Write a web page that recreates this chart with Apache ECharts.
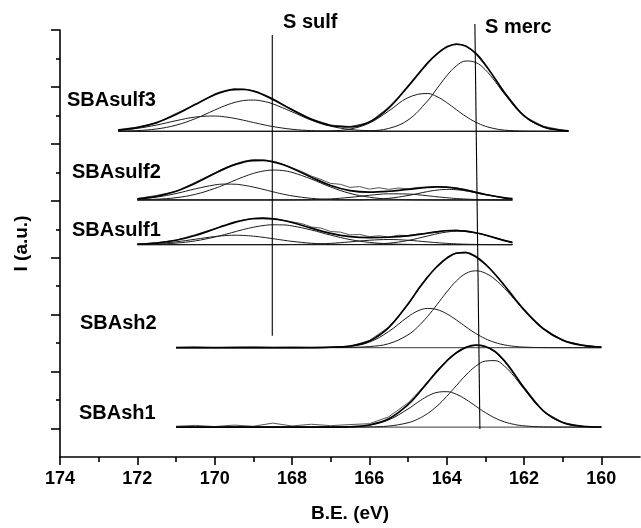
<!DOCTYPE html>
<html><head><meta charset="utf-8">
<script src="https://cdn.jsdelivr.net/npm/echarts@6/dist/echarts.min.js"></script>
<style>html,body{margin:0;padding:0;background:#fff}#c{width:641px;height:528px}</style>
</head><body><div id="c"></div>
<script>
// ---- data (B.E. in eV, intensity heights above each spectrum's own baseline) ----
const sulf3X   = [172.5,172,171.5,171,170.5,170,169.75,169.5,169.25,169,168.75,168.5,168,167.5,167,166.5,166,165.5,165,164.5,164.25,164,163.75,163.5,163.25,163,162.75,162.5,162,161.5,161,160.85];
const sulf3A   = [0.040,0.105,0.222,0.374,0.502,0.538,0.511,0.459,0.389,0.312,0.236,0.169,0.073,0.025,0.007,0.002,0,0,0,0,0,0,0,0,0,0,0,0,0,0,0,0];
const sulf3B   = [0.007,0.026,0.084,0.216,0.447,0.747,0.892,1.009,1.081,1.099,1.058,0.966,0.686,0.393,0.182,0.068,0.020,0.005,0.001,0,0,0,0,0,0,0,0,0,0,0,0,0];
const sulf3C   = [0,0,0,0,0,0,0,0,0,0,0,0,0,0.002,0.015,0.080,0.290,0.712,1.182,1.330,1.218,1.012,0.762,0.521,0.323,0.181,0.092,0.043,0.007,0.001,0,0];
const sulf3D   = [0,0,0,0,0,0,0,0,0,0,0,0,0,0,0,0.002,0.018,0.102,0.397,1.059,1.504,1.948,2.298,2.471,2.421,2.162,1.758,1.304,0.542,0.156,0.031,0.018];
const sulf3Env = [0.047,0.131,0.306,0.590,0.949,1.285,1.403,1.468,1.470,1.411,1.294,1.135,0.759,0.420,0.204,0.152,0.328,0.819,1.580,2.389,2.722,2.960,3.060,2.992,2.744,2.343,1.850,1.347,0.549,0.157,0.031,0.018];
const sulf3Raw = [0.06,0.15,0.29,0.63,0.93,1.32,1.42,1.50,1.49,1.43,1.27,1.10,0.78,0.44,0.22,0.17,0.31,0.85,1.55,2.42,2.70,2.99,3.08,3.01,2.72,2.31,1.87,1.38,0.52,0.18,0.04,0.01];

const sulfX    = [172,171.5,171,170.5,170,169.75,169.5,169.25,169,168.75,168.5,168.25,168,167.5,167,166.5,166,165.5,165,164.5,164.25,164,163.75,163.5,163.25,163,162.5,162.3];
const sulfRawX = [172,171.5,171,170.5,170,169.75,169.5,169.25,169,168.75,168.5,168.25,168,167.75,167.5,167.25,167,166.75,166.5,166.25,166,165.75,165.5,165.25,165,164.75,164.5,164.25,164,163.75,163.5,163.25,163,162.75,162.5,162.3];
const sulf2A   = [0.035,0.101,0.225,0.390,0.527,0.557,0.554,0.517,0.453,0.374,0.289,0.210,0.144,0.056,0.017,0.004,0.001,0,0,0,0,0,0,0,0,0,0,0];
const sulf2B   = [0.007,0.026,0.079,0.197,0.403,0.535,0.677,0.814,0.931,1.013,1.049,1.033,0.969,0.733,0.454,0.231,0.096,0.033,0.009,0.002,0,0,0,0,0,0,0,0];
const sulf2C   = [0,0,0,0,0,0,0,0,0,0,0,0,0.002,0.011,0.037,0.090,0.163,0.215,0.208,0.148,0.111,0.078,0.050,0.030,0.016,0.008,0.002,0.001];
const sulf2D   = [0,0,0,0,0,0,0,0,0,0,0,0,0,0,0,0.002,0.014,0.057,0.156,0.292,0.345,0.369,0.359,0.316,0.252,0.183,0.072,0.044];
const sulf2Env = [0.042,0.127,0.304,0.587,0.930,1.092,1.231,1.331,1.384,1.387,1.338,1.243,1.115,0.800,0.508,0.327,0.274,0.305,0.373,0.442,0.456,0.447,0.409,0.346,0.268,0.191,0.074,0.045];
const sulf2Raw = [0.05,0.16,0.30,0.62,0.95,1.12,1.25,1.36,1.42,1.40,1.36,1.27,1.13,1.00,0.84,0.72,0.58,0.55,0.44,0.47,0.38,0.43,0.37,0.42,0.39,0.44,0.45,0.47,0.44,0.43,0.36,0.28,0.20,0.13,0.06,0.04];

const sulf1A   = [0.013,0.040,0.099,0.190,0.284,0.315,0.330,0.323,0.298,0.258,0.210,0.161,0.115,0.049,0.016,0.004,0.001,0,0,0,0,0,0,0,0,0,0,0];
const sulf1B   = [0.005,0.018,0.054,0.132,0.266,0.351,0.443,0.533,0.611,0.668,0.697,0.694,0.659,0.515,0.334,0.179,0.079,0.029,0.009,0.002,0,0,0,0,0,0,0,0];
const sulf1C   = [0,0,0,0,0,0,0,0,0,0,0,0.002,0.004,0.015,0.045,0.097,0.154,0.180,0.154,0.097,0.069,0.045,0.027,0.015,0.008,0.004,0.001,0];
const sulf1D   = [0,0,0,0,0,0,0,0,0,0,0,0,0,0,0,0.002,0.012,0.050,0.146,0.302,0.381,0.442,0.469,0.457,0.409,0.335,0.140,0.080];
const sulf1Env = [0.018,0.058,0.153,0.322,0.550,0.666,0.773,0.856,0.909,0.926,0.907,0.857,0.778,0.579,0.395,0.282,0.246,0.259,0.309,0.401,0.450,0.487,0.496,0.472,0.417,0.339,0.141,0.080];
const sulf1Raw = [0.02,0.07,0.16,0.35,0.56,0.68,0.80,0.87,0.93,0.95,0.92,0.86,0.80,0.74,0.62,0.58,0.46,0.44,0.34,0.36,0.28,0.31,0.27,0.33,0.32,0.37,0.41,0.46,0.50,0.51,0.48,0.42,0.33,0.24,0.15,0.05];

const shX      = [171,170.5,170,169.5,169,168.5,168,167.5,167,166.5,166,165.5,165,164.75,164.5,164.25,164,163.75,163.5,163.25,163,162.75,162.5,162.25,162,161.5,161,160.5,160];
const sh2E     = [0,0,0,0,0,0,0,0.003,0.008,0.015,0.040,0.140,0.450,0.728,1.089,1.513,1.954,2.343,2.610,2.700,2.619,2.399,2.078,1.700,1.314,0.663,0.266,0.085,0.022];
const sh2F     = [0,0,0,0,0,0,0,0.001,0.007,0.045,0.196,0.567,1.086,1.288,1.378,1.339,1.192,0.974,0.729,0.501,0.316,0.182,0.097,0.047,0.021,0.003,0,0,0];
const sh2Env   = [0,0,0,0,0,0,0,0.004,0.015,0.060,0.236,0.707,1.536,2.016,2.467,2.852,3.146,3.317,3.339,3.201,2.935,2.581,2.175,1.747,1.335,0.666,0.266,0.085,0.022];
const sh2Raw   = [0.01,0.03,0.00,0.02,0.03,0.01,0.02,0.01,0.03,0.05,0.25,0.72,1.50,2.05,2.50,2.83,3.12,3.34,3.36,3.18,2.92,2.60,2.18,1.72,1.31,0.68,0.25,0.10,0.02];

const sh1G     = [0,0,0,0,0,0,0,0,0,0.001,0.007,0.037,0.153,0.279,0.471,0.738,1.076,1.457,1.831,2.138,2.319,2.336,2.135,1.774,1.336,0.566,0.162,0.031,0.004];
const sh1H     = [0,0,0,0,0,0,0,0,0.002,0.012,0.068,0.253,0.636,0.871,1.082,1.219,1.245,1.154,0.970,0.739,0.511,0.320,0.182,0.094,0.044,0.007,0.001,0,0];
const sh1Env   = [0,0,0,0,0,0,0,0,0.002,0.013,0.075,0.290,0.789,1.150,1.553,1.957,2.321,2.611,2.801,2.877,2.830,2.656,2.317,1.868,1.380,0.573,0.163,0.031,0.004];
const sh1Raw   = [0.03,0.06,0.02,0.07,0.03,0.14,0.04,0.10,0.05,0.09,0.12,0.36,0.85,1.20,1.58,1.99,2.33,2.60,2.80,2.88,2.84,2.64,2.30,1.85,1.41,0.55,0.17,0.02,0.01];

const sampleNames = ['SBAsulf3','SBAsulf2','SBAsulf1','SBAsh2','SBAsh1'];
const offsets = [11.44, 9.03, 7.46, 3.84, 1.05];   // vertical stacking of the spectra
const sulfRefX = [168.51, 168.51], sulfRefY = [4.26, 14.82];
const mercRefX = [163.14, 163.27], mercRefY = [0.98, 15.21];
const majorTicksX = [160,162,164,166,168,170,172,174];
const minorTicksX = [161,163,165,167,169,171,173];
const majorTicksY = [1,3,5,7,9,11,13,15];
const minorTicksY = [2,4,6,8,10,12,14];

// ---- build ----
const FONT = '"Liberation Sans", Arial, Helvetica, sans-serif';
const samples = [
  {x: sulf3X, rawX: sulf3X,   comps: [sulf3A, sulf3B, sulf3C, sulf3D], env: sulf3Env, raw: sulf3Raw},
  {x: sulfX,  rawX: sulfRawX, comps: [sulf2A, sulf2B, sulf2C, sulf2D], env: sulf2Env, raw: sulf2Raw},
  {x: sulfX,  rawX: sulfRawX, comps: [sulf1A, sulf1B, sulf1C, sulf1D], env: sulf1Env, raw: sulf1Raw},
  {x: shX,    rawX: shX,      comps: [sh2E, sh2F], env: sh2Env, raw: sh2Raw},
  {x: shX,    rawX: shX,      comps: [sh1G, sh1H], env: sh1Env, raw: sh1Raw}
];
function pts(xs, ys, off) { return xs.map((x, i) => [x, off + ys[i]]); }
const series = [];
samples.forEach((s, k) => {
  const off = offsets[k];
  series.push({type: 'line', name: sampleNames[k] + ' base', data: [[s.x[0], off], [s.x[s.x.length - 1], off]],
    symbol: 'none', lineStyle: {color: '#3a3a3a', width: 1}, z: 2});
  s.comps.forEach((c, j) => series.push({type: 'line', name: sampleNames[k] + ' c' + j, data: pts(s.x, c, off),
    smooth: 0.4, symbol: 'none', lineStyle: {color: '#1a1a1a', width: 1}, z: 3}));
  series.push({type: 'line', name: sampleNames[k] + ' raw', data: pts(s.rawX, s.raw, off),
    symbol: 'none', lineStyle: {color: '#555', width: 1}, z: 3});
  series.push({type: 'line', name: sampleNames[k] + ' fit', data: pts(s.x, s.env, off),
    smooth: 0.4, symbol: 'none', lineStyle: {color: '#000', width: 1.7}, z: 4});
});
series.push({type: 'line', name: 'S sulf', data: sulfRefX.map((x, i) => [x, sulfRefY[i]]), symbol: 'none',
  clip: false, lineStyle: {color: '#000', width: 1.1}, z: 5});
series.push({type: 'line', name: 'S merc', data: mercRefX.map((x, i) => [x, mercRefY[i]]), symbol: 'none',
  clip: false, lineStyle: {color: '#000', width: 1.1}, z: 5});

const labelStyle = {font: 'bold 20px ' + FONT, fill: '#000', verticalAlign: 'middle', align: 'left'};
const labelPix = [[67, 100], [72, 172], [72, 230], [80, 323], [79, 413]];
const graphic = sampleNames.map((n, i) => ({type: 'text', x: labelPix[i][0], y: labelPix[i][1],
  style: Object.assign({text: n}, labelStyle)}));
graphic.push({type: 'text', x: 283, y: 22, style: Object.assign({text: 'S sulf'}, labelStyle)});
graphic.push({type: 'text', x: 485, y: 27, style: Object.assign({text: 'S merc'}, labelStyle)});

const axisLineStyle = {color: '#000', width: 1.6};
const chart = echarts.init(document.getElementById('c'), null, {renderer: 'canvas'});
chart.setOption({
  animation: false,
  backgroundColor: '#fff',
  grid: {left: 60, right: 1, top: 30, bottom: 68, containLabel: false},
  xAxis: [
    {type: 'value', min: 159, max: 174, inverse: true,
     axisLine: {show: true, onZero: false, lineStyle: axisLineStyle},
     axisTick: {show: true, length: 8, customValues: majorTicksX, lineStyle: axisLineStyle},
     axisLabel: {customValues: majorTicksX, fontSize: 18, fontWeight: 'bold', color: '#000', margin: 13, fontFamily: FONT},
     splitLine: {show: false},
     name: 'B.E. (eV)', nameLocation: 'middle', nameGap: 47,
     nameTextStyle: {fontSize: 19, fontWeight: 'bold', color: '#000', fontFamily: FONT}},
    {type: 'value', min: 159, max: 174, inverse: true, position: 'bottom',
     axisLine: {show: false, onZero: false},
     axisTick: {show: true, length: 5, customValues: minorTicksX, lineStyle: axisLineStyle},
     axisLabel: {show: false}, splitLine: {show: false}}
  ],
  yAxis: [
    {type: 'value', min: 0, max: 15,
     axisLine: {show: true, onZero: false, lineStyle: axisLineStyle},
     axisTick: {show: true, length: 9, customValues: majorTicksY, lineStyle: axisLineStyle},
     axisLabel: {show: false}, splitLine: {show: false},
     name: 'I (a.u.)', nameLocation: 'middle', nameGap: 29,
     nameTextStyle: {fontSize: 19, fontWeight: 'bold', color: '#000', fontFamily: FONT}},
    {type: 'value', min: 0, max: 15, position: 'left',
     axisLine: {show: false, onZero: false},
     axisTick: {show: true, length: 4, customValues: minorTicksY, lineStyle: axisLineStyle},
     axisLabel: {show: false}, splitLine: {show: false}}
  ],
  graphic: graphic,
  series: series
});
</script></body></html>
